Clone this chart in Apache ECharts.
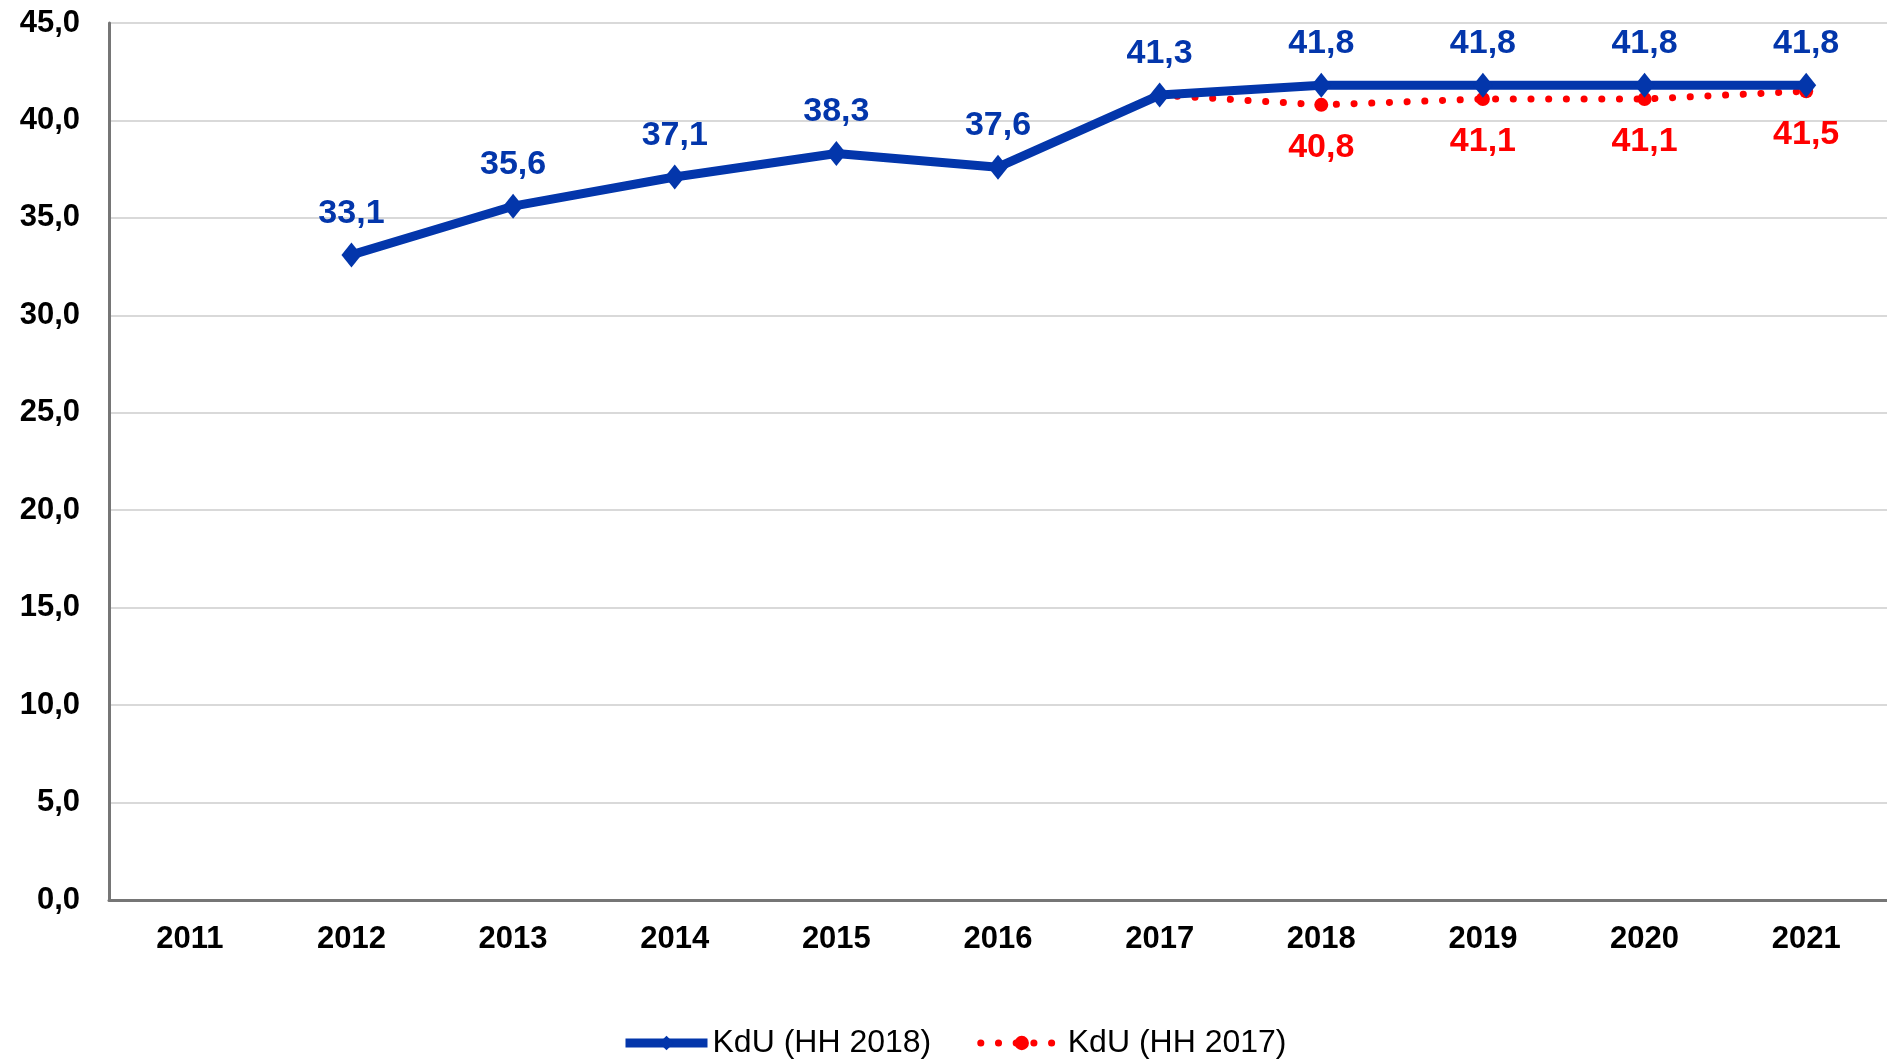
<!DOCTYPE html>
<html><head><meta charset="utf-8">
<script src="https://cdn.jsdelivr.net/npm/echarts@6/dist/echarts.min.js"></script>
<style>html,body{margin:0;padding:0;background:#fff;}#c{width:1887px;height:1060px;}</style>
</head><body><div id="c"></div>
<script>
var categories = ['2011','2012','2013','2014','2015','2016','2017','2018','2019','2020','2021'];
var kdu2018 = [null, 33.1, 35.6, 37.1, 38.3, 37.6, 41.3, 41.8, 41.8, 41.8, 41.8];
var kdu2017 = [null, null, null, null, null, null, 41.3, 40.8, 41.1, 41.1, 41.5];
var seriesNames = ['KdU (HH 2018)', 'KdU (HH 2017)'];
var yMin = 0, yMax = 45, yStep = 5;

var blue = '#0336AB', red = '#FF0000';
function fmt(v){ return v.toFixed(1).replace('.', ','); }
var chart = echarts.init(document.getElementById('c'));
chart.setOption({
  animation: false,
  grid: { left: 109, top: 23, width: 1782, height: 877 },
  legend: {
    left: 616, top: 1022, itemWidth: 82, itemHeight: 18, itemGap: 46,
    lineStyle: { width: 'inherit' },
    textStyle: { fontFamily: '"Liberation Sans", Arial', fontSize: 32, color: '#000' },
    data: seriesNames
  },
  xAxis: {
    type: 'category', data: categories, boundaryGap: true,
    axisLine: { lineStyle: { color: '#767676', width: 3 } },
    axisTick: { show: false },
    axisLabel: { margin: 24, color: '#000', fontWeight: 'bold', fontSize: 31, fontFamily: '"Liberation Sans", Arial' }
  },
  yAxis: {
    type: 'value', min: yMin, max: yMax, interval: yStep,
    axisLine: { show: true, lineStyle: { color: '#767676', width: 3 } },
    axisTick: { show: false },
    splitLine: { lineStyle: { color: '#D9D9D9', width: 2 } },
    axisLabel: { margin: 29, color: '#000', fontWeight: 'bold', fontSize: 31, fontFamily: '"Liberation Sans", Arial', formatter: fmt }
  },
  series: [
    {
      name: seriesNames[1], type: 'line', data: kdu2017, z: 2,
      symbol: 'circle', symbolSize: 14, showSymbol: true,
      itemStyle: { color: red },
      lineStyle: { color: red, width: 7, type: [0.1, 17.6], cap: 'round' },
      label: {
        show: true, position: 'bottom', distance: 19, color: red, fontWeight: 'bold', fontSize: 34,
        fontFamily: '"Liberation Sans", Arial',
        formatter: function(p){ return p.dataIndex === 6 ? '' : fmt(p.value); }
      }
    },
    {
      name: seriesNames[0], type: 'line', data: kdu2018, z: 3,
      symbol: 'diamond', symbolSize: [20, 25],
      itemStyle: { color: blue },
      lineStyle: { color: blue, width: 9 },
      label: {
        show: true, position: 'top', distance: 12, color: blue, fontWeight: 'bold', fontSize: 34,
        fontFamily: '"Liberation Sans", Arial',
        formatter: function(p){ return fmt(p.value); }
      }
    }
  ]
});
</script></body></html>
